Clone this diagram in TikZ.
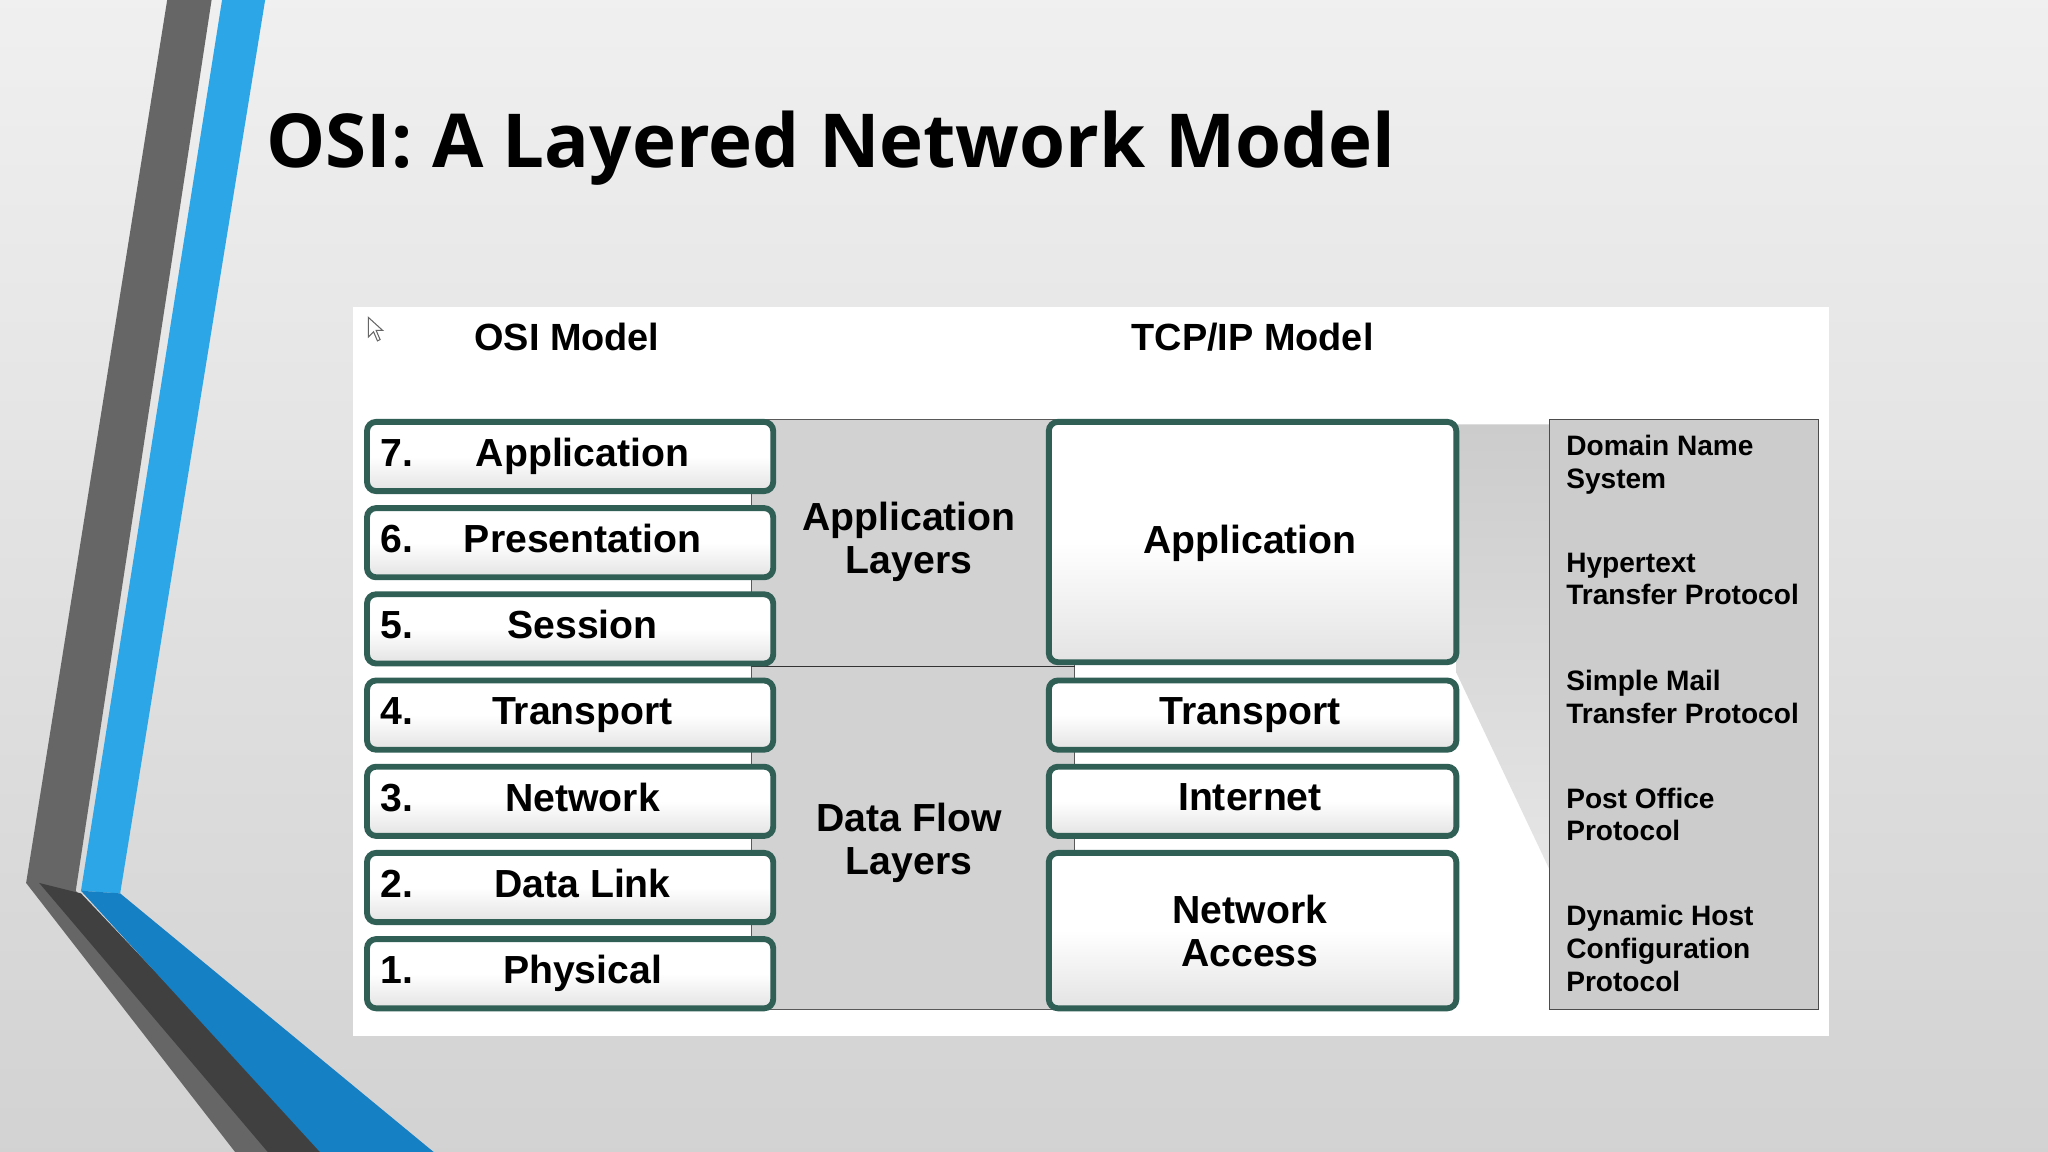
\documentclass[tikz,border=0pt]{standalone}
\usepackage{fontspec}
\setmainfont{Liberation Sans}
\newfontfamily\titlefont{Open Sans}
\begin{document}
\begin{tikzpicture}[x=1pt,y=-1pt,
 lay/.style={draw=grn,line width=4.5pt,rounded corners=7pt,top color=white,bottom color=gray!22,middle color=white},
 lbl/.style={font=\fontsize{30}{34}\selectfont\bfseries,align=center,text height=21pt,text depth=6pt},
 mid/.style={font=\fontsize{30}{34}\selectfont\bfseries,align=center},
 prot/.style={font=\fontsize{21.5}{25}\selectfont\bfseries,align=left,anchor=north west,inner sep=0pt}]
\definecolor{grn}{HTML}{2F5F55}
\definecolor{sblue}{HTML}{2CA6E6}
\definecolor{dblue}{HTML}{1580C4}
\useasboundingbox (0,0) rectangle (1568,882);
\shade[top color=gray!12,bottom color=gray!35] (0,0) rectangle (1568,882);
% decor
\fill[gray!80!black] (128,0)--(162,0)--(58,682)--(242,882)--(180,882)--(20,676)--cycle;
\fill[black!75] (30,676)--(62,684)--(250,882)--(205,882)--cycle;
\fill[sblue] (170,0)--(203,0)--(92,684)--(62,682)--cycle;
\fill[dblue] (62,682)--(92,684)--(332,882)--(245,882)--cycle;
\node[anchor=base west,inner sep=0pt,font=\titlefont\fontsize{57}{60}\selectfont\bfseries] (title) at (204,128) {OSI: A Layered Network Model};
% panel
\fill[white] (270,235) rectangle (1400,793);
\draw[black!60,fill=white,line width=0.8pt] (282,243)--(282,258)--(286,254)--(289,261)--(291,260)--(288,253)--(293,253)--cycle;
\node[font=\fontsize{29}{32}\selectfont\bfseries] (h1) at (434,258) {OSI Model};
\node[font=\fontsize{29}{32}\selectfont\bfseries] (h2) at (959,258) {TCP/IP Model};
\filldraw[fill=gray!35,draw=gray!70!black,line width=0.8pt] (575,321) rectangle (823,773);
\draw[gray!40!black,line width=0.8pt] (575,510)--(823,510);
\shade[top color=gray!40,bottom color=gray!20] (1115,325)--(1186,325)--(1186,665)--(1115,515)--cycle;
\filldraw[fill=gray!40,draw=gray!60!black,line width=0.8pt] (1186,321) rectangle (1392,773);
% OSI boxes
\foreach \n/\t/\y in {7/Application/323,6/Presentation/389,5/Session/455,4/Transport/521,3/Network/587,2/Data Link/653,1/Physical/719}{
 \draw[lay] (281,\y) rectangle (592,\y+53);
 \node[lbl,anchor=west] (n\n) at (288,\y+26.5) {\n.};
 \node[lbl] (o\n) at (446,\y+26.5) {\t};
}
\node[mid] (al) at (696,415) {Application\\[-1pt]Layers};
\node[mid] (dl) at (696,645) {Data Flow\\[-1pt]Layers};
% TCP boxes
\draw[lay] (803,323) rectangle (1115,507); \node[lbl] (ta) at (957,416) {Application};
\draw[lay] (803,521) rectangle (1115,574); \node[lbl] (tt) at (957,547) {Transport};
\draw[lay] (803,587) rectangle (1115,640); \node[lbl] (ti) at (957,613) {Internet};
\draw[lay] (803,653) rectangle (1115,772); \node[mid] (tn) at (957,713) {Network\\[-1pt]Access};
% protocols
\node[prot] (p1) at (1199,333) {Domain Name\\System};
\node[prot] (p2) at (1199,423) {Hypertext\\Transfer Protocol};
\node[prot] (p3) at (1199,513) {Simple Mail\\Transfer Protocol};
\node[prot] (p4) at (1199,603) {Post Office\\Protocol};
\node[prot] (p5) at (1199,693) {Dynamic Host\\Configuration\\Protocol};
\end{tikzpicture}
\end{document}
